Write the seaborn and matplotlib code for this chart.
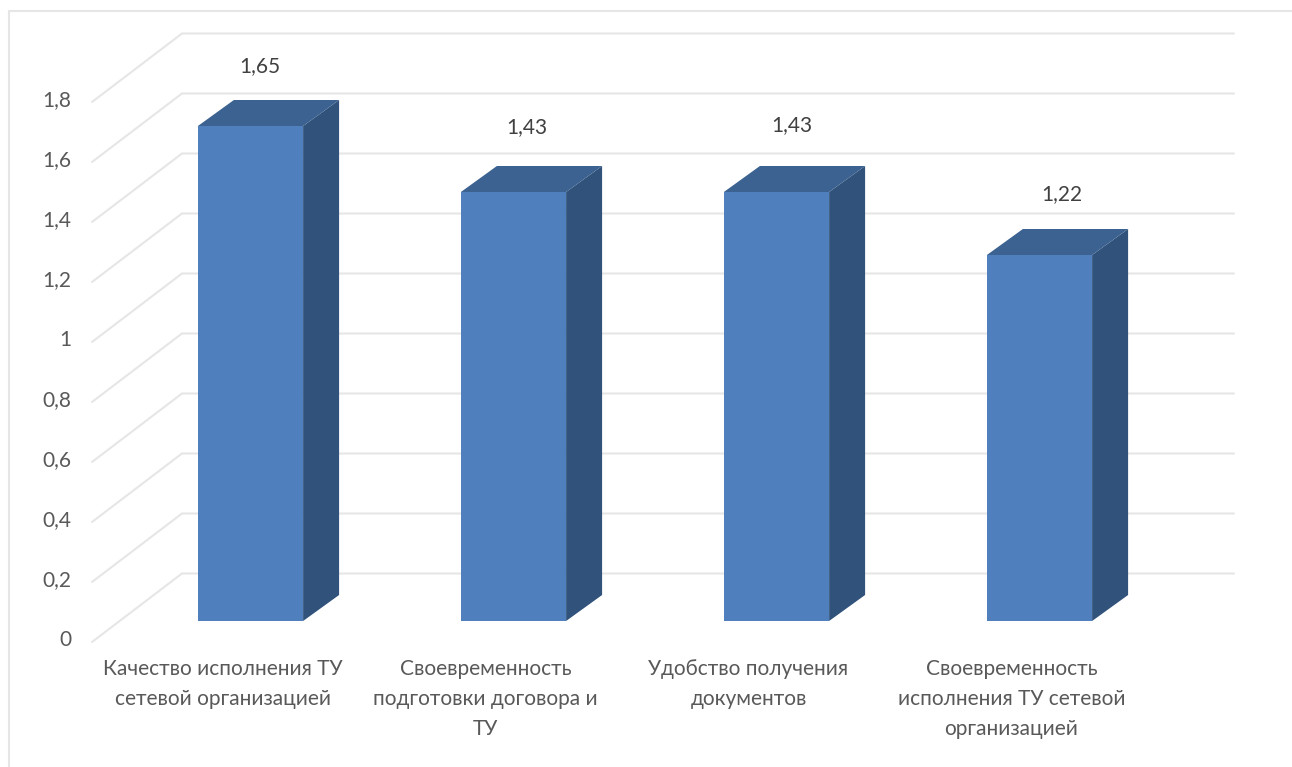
import matplotlib
matplotlib.use('Agg')
import matplotlib.pyplot as plt
import numpy as np
import pandas as pd
import seaborn as sns
from matplotlib.patches import Polygon

categories = [
    'Качество исполнения ТУ\nсетевой организацией',
    'Своевременность\nподготовки договора и\nТУ',
    'Удобство получения\nдокументов',
    'Своевременность\nисполнения ТУ сетевой\nорганизацией',
]
values = [1.65, 1.43, 1.43, 1.22]
value_labels = ['1,65', '1,43', '1,43', '1,22']
axis_ticks = [0, 0.2, 0.4, 0.6, 0.8, 1, 1.2, 1.4, 1.6, 1.8]
axis_tick_labels = ['0', '0,2', '0,4', '0,6', '0,8', '1', '1,2', '1,4', '1,6', '1,8']

W, H = 1292, 767
PX_X = 263.0   # pixels per category
PX_Y = 300.0   # pixels per unit of value
X0, Y0 = 250.5, 621.0  # pixel position of first category / value 0

sns.set_theme(style='white')
plt.rcParams['font.family'] = ['Lato', 'DejaVu Sans']

fig = plt.figure(figsize=(W / 100, H / 100), dpi=100)
ax = fig.add_axes([0, 0, 1, 1])

df = pd.DataFrame({'category': categories, 'value': values})
sns.barplot(data=df, x='category', y='value', color='#4f80bd', saturation=1,
            width=0.4, linewidth=0, ax=ax, zorder=3)

ax.set_xlim(-X0 / PX_X, (W - X0) / PX_X)
ax.set_ylim((Y0 - H) / PX_Y, Y0 / PX_Y)
ax.axis('off')


def dx(px):
    return px / PX_X


def dy(px):
    return px / PX_Y


def px_x(px):
    return (px - X0) / PX_X


def px_y(px):
    return (Y0 - px) / PX_Y


# outer frame of the pasted picture
ax.plot([px_x(8.5), px_x(8.5), px_x(W)], [px_y(H), px_y(11), px_y(11)],
        color='#e6e6e6', lw=1.5, zorder=1)

# floor and back wall lines
grid_color = '#e6e6e6'
for tick in axis_ticks:
    y_front = tick + px_y(642)
    y_back = tick + px_y(573.5)
    ax.plot([px_x(92), px_x(182), px_x(1234)], [y_front, y_back, y_back],
            color=grid_color, lw=1.5, zorder=1, solid_joinstyle='miter')

# 3d faces on every bar
depth_x, depth_y = dx(36), dy(26)
for bar in ax.patches:
    x = bar.get_x()
    w = bar.get_width()
    h = bar.get_height()
    side = [(x + w, 0), (x + w + depth_x, depth_y),
            (x + w + depth_x, h + depth_y), (x + w, h)]
    top = [(x, h), (x + depth_x, h + depth_y),
           (x + w + depth_x, h + depth_y), (x + w, h)]
    ax.add_patch(Polygon(side, closed=True, fc='#31527a', ec='none', zorder=3))
    ax.add_patch(Polygon(top, closed=True, fc='#3b6290', ec='none', zorder=3))

text_color = '#595959'

# y axis labels
for tick, label in zip(axis_ticks, axis_tick_labels):
    ax.text(px_x(71), tick + px_y(640.5), label, ha='right', va='center',
            fontsize=15, color=text_color)

# value labels, they sit a bit off the bars in the original
label_dx = [9.5, 13.5, 15.5, 22]
label_dy = [60, 65, 67, 61]
for i, (val, label) in enumerate(zip(values, value_labels)):
    ax.text(i + dx(label_dx[i]), val + dy(label_dy[i]), label, ha='center',
            va='center', fontsize=15, color='#404040')

# category labels
for i, label in enumerate(categories):
    ax.text(i + dx(-28), px_y(659), label, ha='center', va='top',
            fontsize=15, color=text_color, linespacing=1.62)

fig.savefig('out.png', dpi=100)
